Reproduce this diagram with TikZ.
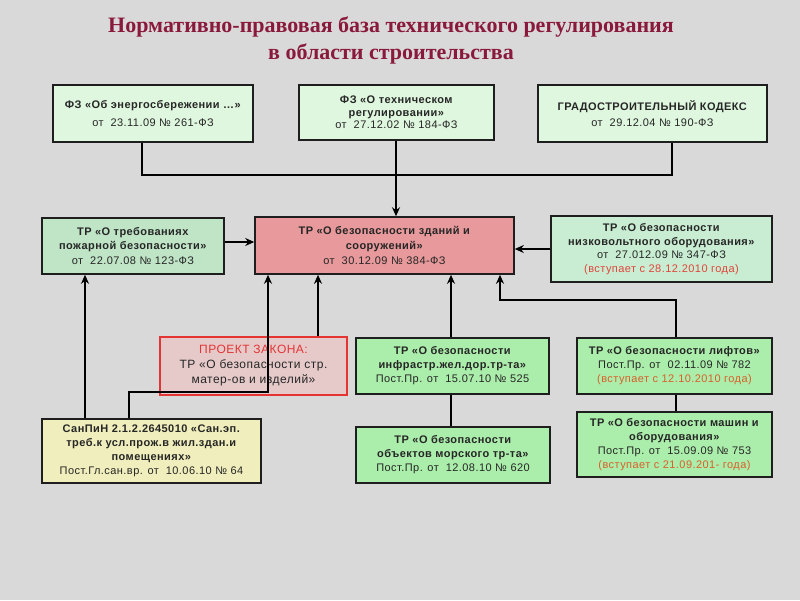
\documentclass[tikz,border=0pt]{standalone}
\usepackage{fontspec}
\setmainfont{Liberation Sans}
\newfontfamily\boxfont[LetterSpace=4]{Liberation Sans}
\newfontfamily\titlefont{Liberation Serif}
\usetikzlibrary{arrows.meta,calc}
\definecolor{bgc}{HTML}{D9D9D9}
\definecolor{titlec}{HTML}{8A1A3C}
\definecolor{topg}{HTML}{DFF7DF}
\definecolor{fireg}{HTML}{BFE4C6}
\definecolor{lowg}{HTML}{C9EDD2}
\definecolor{brg}{HTML}{ABEDAB}
\definecolor{mainr}{HTML}{E8999B}
\definecolor{projf}{HTML}{E6CACA}
\definecolor{projr}{HTML}{E43434}
\definecolor{sanp}{HTML}{EFEEBC}
\definecolor{redt}{HTML}{E0443A}
\definecolor{orat}{HTML}{D9602A}
\definecolor{edge}{HTML}{1E1E1E}
\begin{document}
\begin{tikzpicture}[x=1pt,y=-1pt,
  box/.style={draw=edge, line width=1.6pt, align=center, inner sep=0pt,
    font=\boxfont\fontsize{11}{14.5}\selectfont, text=black!85},
  arr/.style={draw=black, line width=1.6pt, -{Stealth[length=9pt,width=8pt]}},
  ln/.style={draw=black, line width=1.6pt}]
\fill[bgc] (0,0) rectangle (800,600);
\useasboundingbox (0,0) rectangle (800,600);
% title
\node[font=\titlefont\bfseries\fontsize{22}{26}\selectfont, text=titlec] (T1) at (391,27) {Нормативно-правовая база технического регулирования};
\node[font=\titlefont\bfseries\fontsize{22}{26}\selectfont, text=titlec] (T2) at (391,54) {в области строительства};
% top row
\node[box, fill=topg, minimum width=200, minimum height=57] (A) at (153,113.5)
  {\textbf{ФЗ «Об энергосбережении …»}\\[4pt] от~ 23.11.09 № 261-ФЗ};
\node[box, fill=topg, minimum width=195, minimum height=55, font=\boxfont\fontsize{11}{12.5}\selectfont] (B) at (396.5,112.5)
  {\textbf{ФЗ «О техническом}\\ \textbf{регулировании»}\\ от~ 27.12.02 № 184-ФЗ};
\node[box, fill=topg, minimum width=229, minimum height=57] (C) at (652.5,113.5)
  {\textbf{ГРАДОСТРОИТЕЛЬНЫЙ КОДЕКС}\\[2pt] от~ 29.12.04 № 190-ФЗ};
% middle row
\node[box, fill=fireg, minimum width=182, minimum height=56, font=\boxfont\fontsize{11}{14.8}\selectfont] (F) at (133,246)
  {\textbf{ТР «О требованиях}\\ \textbf{пожарной безопасности»}\\ от~ 22.07.08 № 123-ФЗ};
\node[box, fill=mainr, minimum width=259, minimum height=57, font=\boxfont\fontsize{11}{14.8}\selectfont] (M) at (384.5,245.5)
  {\textbf{ТР «О безопасности зданий и}\\ \textbf{сооружений»}\\ от~ 30.12.09 № 384-ФЗ};
\node[box, fill=lowg, minimum width=221, minimum height=66, font=\boxfont\fontsize{11}{13.6}\selectfont] (L) at (661.5,249)
  {\textbf{ТР «О безопасности}\\ \textbf{низковольтного оборудования»}\\ от~ 27.012.09 № 347-ФЗ\\ \textcolor{redt}{(вступает с 28.12.2010 года)}};
% lower rows
\node[box, draw=projr, fill=projf, minimum width=187, minimum height=58, font=\boxfont\fontsize{12}{15}\selectfont] (P) at (253.5,366)
  {\textcolor{projr}{ПРОЕКТ ЗАКОНА:}\\ ТР «О безопасности стр.\\ матер-ов и изделий»};
\node[box, fill=brg, minimum width=193, minimum height=56, font=\boxfont\fontsize{11}{14}\selectfont] (I) at (452.5,366)
  {\textbf{ТР «О безопасности}\\ \textbf{инфрастр.жел.дор.тр-та»}\\ Пост.Пр. от~ 15.07.10 № 525};
\node[box, fill=brg, minimum width=195, minimum height=56, font=\boxfont\fontsize{11}{14}\selectfont] (Lf) at (674.5,366)
  {\textbf{ТР «О безопасности лифтов»}\\ Пост.Пр. от~ 02.11.09 № 782\\ \textcolor{orat}{(вступает с 12.10.2010 года)}};
\node[box, fill=sanp, minimum width=219, minimum height=64, font=\boxfont\fontsize{11}{14}\selectfont] (S) at (151.5,451)
  {\textbf{СанПиН 2.1.2.2645010 «Сан.эп.}\\ \textbf{треб.к усл.прож.в жил.здан.и}\\ \textbf{помещениях»}\\ Пост.Гл.сан.вр. от~ 10.06.10 № 64};
\node[box, fill=brg, minimum width=194, minimum height=56, font=\boxfont\fontsize{11}{14}\selectfont] (Mo) at (453,455)
  {\textbf{ТР «О безопасности}\\ \textbf{объектов морского тр-та»}\\ Пост.Пр. от~ 12.08.10 № 620};
\node[box, fill=brg, minimum width=195, minimum height=65, font=\boxfont\fontsize{11}{14}\selectfont] (Mc) at (674.5,444.5)
  {\textbf{ТР «О безопасности машин и}\\ \textbf{оборудования»}\\ Пост.Пр. от~ 15.09.09 № 753\\ \textcolor{orat}{(вступает с 21.09.201- года)}};
% helper coordinates
\coordinate (busL) at (142,175);
\coordinate (busR) at (672,175);
\coordinate (c0) at (396,0);
\coordinate (yf) at (0,242);
\coordinate (c1) at (85,0);
\coordinate (c2) at (129,0);
\coordinate (c3) at (268,392);
\coordinate (c4) at (318,0);
\coordinate (c5) at (451,0);
\coordinate (c6) at (500,300);
\coordinate (c7) at (676,0);
% connectors
\draw[ln] (A.south -| busL) -- (busL) -- (busR) -- (C.south -| busR);
\draw[arr] (B.south -| c0) -- (M.north -| c0);
\draw[arr] (F.east |- yf) -- (M.west |- yf);
\draw[arr] (L.west) -- (M.east |- L.west);
\draw[arr] (S.north -| c1) -- (F.south -| c1);
\draw[arr] (S.north -| c2) -- (c2 |- c3) -- (c3) -- (M.south -| c3);
\draw[arr] (P.north -| c4) -- (M.south -| c4);
\draw[arr] (I.north -| c5) -- (M.south -| c5);
\draw[ln] (I.south -| c5) -- (Mo.north -| c5);
\draw[arr] (Lf.north -| c7) -- (c7 |- c6) -- (c6) -- (M.south -| c6);
\draw[ln] (Lf.south -| c7) -- (Mc.north -| c7);
\end{tikzpicture}
\end{document}
